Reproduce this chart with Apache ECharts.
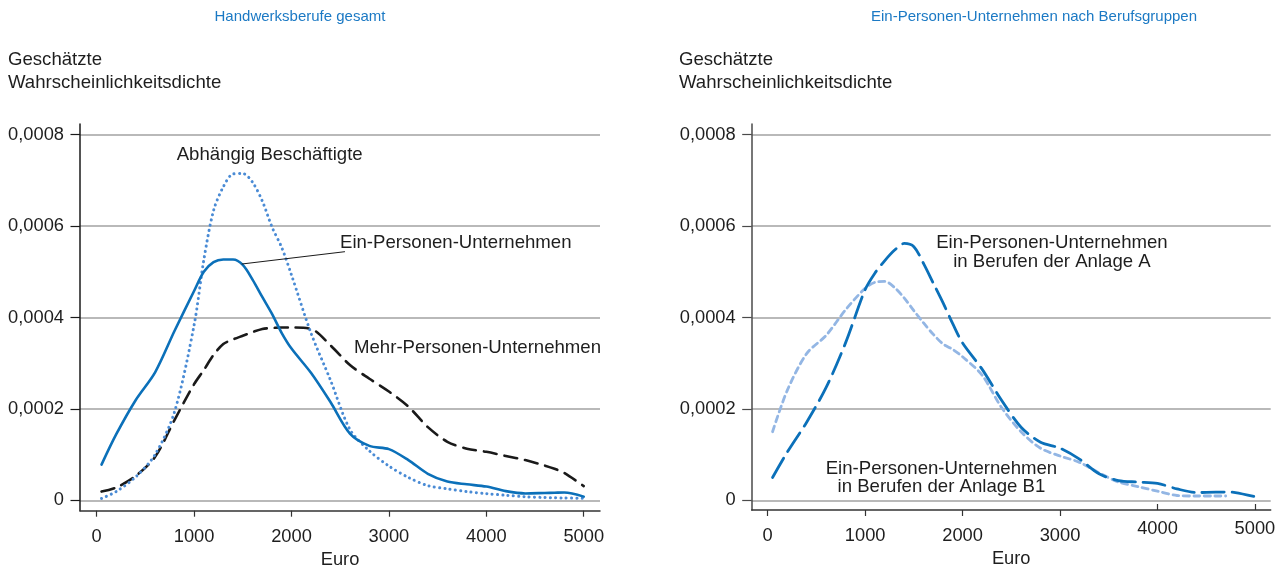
<!DOCTYPE html>
<html>
<head>
<meta charset="utf-8">
<script src="https://cdn.jsdelivr.net/npm/echarts@6/dist/echarts.min.js"></script>
<style>
  html, body { margin: 0; padding: 0; background: #ffffff; }
  #c { width: 1283px; height: 566px; }
</style>
</head>
<body>
<div id="c"></div>
<script>
// Monthly earnings in euro at which the density estimates are evaluated
const euro = [50, 200, 400, 600, 800, 1000, 1100, 1200, 1300, 1400, 1500, 1600, 1700, 1800, 1900, 2000,
  2200, 2400, 2600, 2800, 3000, 3200, 3400, 3600, 3800, 4000, 4200, 4400, 4600, 4700, 4800, 5000];

// Handwerksberufe gesamt
const einPersonen = [0.000078, 0.000144, 0.000219, 0.00028, 0.000371, 0.000458, 0.0005, 0.000521, 0.000527, 0.000527,
  0.000515, 0.000483, 0.000445, 0.000408, 0.000366, 0.000332, 0.000279, 0.000215, 0.000146, 0.000119, 0.000112,
  0.000088, 0.000058, 0.000041, 0.000035, 0.00003, 0.00002, 0.000015, 0.000016, 0.0000165, 0.000017, 0.000008];
const abhaengig = [0.000004, 0.000019, 0.000051, 0.0001, 0.000194, 0.000383, 0.000526, 0.000634, 0.000686, 0.000714,
  0.000715, 0.000696, 0.000655, 0.000598, 0.000553, 0.000493, 0.000366, 0.000263, 0.000155, 0.000108, 0.000075,
  0.00005, 0.000032, 0.000025, 0.000019, 0.0000145, 0.000011, 0.0000077, 0.000006, 0.0000055, 0.000005, 0.0000044];
const mehrPersonen = [0.000019, 0.000028, 0.000053, 0.000095, 0.000176, 0.000254, 0.000285, 0.000318, 0.000342, 0.000352,
  0.00036, 0.000368, 0.000375, 0.000377, 0.000378, 0.000378, 0.000375, 0.000339, 0.000296, 0.000266, 0.000238,
  0.000205, 0.00016, 0.000128, 0.000113, 0.000106, 0.000097, 0.000088, 0.000076, 0.000069, 0.00006, 0.000031];

// Ein-Personen-Unternehmen nach Berufsgruppen
const anlageA = [0.00005, 0.000105, 0.000171, 0.000247, 0.000345, 0.000461, 0.000497, 0.000524, 0.000547, 0.000562,
  0.000555, 0.000518, 0.000475, 0.000432, 0.000386, 0.000344, 0.000287, 0.000219, 0.00016, 0.000127, 0.000114,
  0.00009, 0.000058, 0.000043, 0.00004, 0.000037, 0.000025, 0.000017, 0.0000178, 0.000018, 0.000017, 0.000008];
const anlageB1 = [0.00015, 0.00024, 0.000321, 0.000361, 0.000417, 0.000464, 0.000477, 0.000479, 0.000466, 0.000443,
  0.000415, 0.000388, 0.000363, 0.000342, 0.00033, 0.000314, 0.000274, 0.000203, 0.00015, 0.000114, 0.000097,
  0.000083, 0.00006, 0.00004, 0.00003, 0.00002, 0.0000105, 0.0000094, 0.0000094, 0.0000094, null, null];

// Axis ticks
const yTicks = [0, 0.0002, 0.0004, 0.0006, 0.0008];
const yTickLabels = ['0', '0,0002', '0,0004', '0,0006', '0,0008'];
const xTicks = [0, 1000, 2000, 3000, 4000, 5000];

const FONT = '"Liberation Sans", Arial, Helvetica, sans-serif';
const TEXT = '#1e1e1e';
const BLUE = '#0b70b9';
const BLUE_DOT = '#4a8bd5';
const BLUE_LIGHT = '#93b6e4';
const FS = 18.6;   // annotations and captions
const FS_TICK = 18.3;

const pairs = ys => euro.map((e, i) => [e, ys[i]]);
const yLabel = v => {
  const i = yTicks.findIndex(t => Math.abs(t - v) < 1e-10);
  return i >= 0 ? yTickLabels[i] : '';
};

function xAxisFor(gridIndex, min, max, ticks, opts) {
  const o = opts || {};
  return {
    type: 'value', gridIndex, min, max, position: 'bottom',
    name: o.noName ? '' : 'Euro', nameLocation: 'middle', nameGap: 37,
    nameTextStyle: { fontSize: FS_TICK, color: TEXT, fontFamily: FONT },
    axisLine: { show: !o.noLine, onZero: false, lineStyle: { color: '#333', width: 1.5 } },
    axisTick: { show: true, inside: !!o.inside, customValues: ticks, length: 6, lineStyle: { color: '#333', width: 1.2 } },
    axisLabel: { customValues: ticks, margin: o.margin || 17, fontSize: FS_TICK, color: TEXT, fontFamily: FONT,
      formatter: v => String(v) },
    splitLine: { show: false }
  };
}

function yAxisFor(gridIndex, min, max, lineColor) {
  return {
    type: 'value', gridIndex, min, max,
    axisLine: { show: true, onZero: false, lineStyle: { color: lineColor, width: 1.5 } },
    axisTick: { show: true, customValues: yTicks, length: 9.5, lineStyle: { color: lineColor, width: 1.2 } },
    axisLabel: { customValues: yTicks, margin: 16, fontSize: FS_TICK, color: TEXT, fontFamily: FONT, formatter: yLabel },
    splitLine: { show: true, lineStyle: { color: '#a2a2a2', width: 1.5 } }
  };
}

const lineSeries = (name, xi, yi, ys, color, width, type) => ({
  name, type: 'line', xAxisIndex: xi, yAxisIndex: yi, data: pairs(ys),
  smooth: 0.3, showSymbol: false, symbol: 'none', connectNulls: false,
  lineStyle: { color, width, type, cap: 'round', join: 'round' }, z: 3
});

const chart = echarts.init(document.getElementById('c'), null, { renderer: 'canvas' });

chart.setOption({
  animation: false,
  backgroundColor: '#ffffff',
  grid: [
    { left: 80, top: 124, width: 520, height: 386.7, outerBoundsMode: 'none', containLabel: false },
    { left: 751.7, top: 124, width: 519, height: 386, outerBoundsMode: 'none', containLabel: false }
  ],
  xAxis: [
    xAxisFor(0, -171, 5167, xTicks),
    xAxisFor(1, -164, 5162, xTicks.slice(0, 4)),
    xAxisFor(1, -164, 5162, xTicks.slice(4), { noName: true, noLine: true, inside: true, margin: 9.5 })
  ],
  yAxis: [
    yAxisFor(0, -0.0000228, 0.0008234, '#1a1a1a'),
    yAxisFor(1, -0.0000212, 0.0008234, '#4a4a4a')
  ],
  series: [
    lineSeries('Mehr-Personen-Unternehmen', 0, 0, mehrPersonen, '#1a1a1a', 2.6, [13, 8]),
    lineSeries('Abhängig Beschäftigte', 0, 0, abhaengig, BLUE_DOT, 3, [0.1, 5.2]),
    lineSeries('Ein-Personen-Unternehmen', 0, 0, einPersonen, BLUE, 2.6, 'solid'),
    lineSeries('Anlage B1', 1, 1, anlageB1, BLUE_LIGHT, 2.8, [6, 4.5]),
    lineSeries('Anlage A', 1, 1, anlageA, BLUE, 2.8, [22, 8])
  ]
});

// Titles, axis captions and curve annotations
const at = (gridIndex, e, d) => chart.convertToPixel({ gridIndex }, [e, d]);
const txt = (p, text, align, color, size) => ({
  type: 'text', x: p[0], y: p[1], z: 10,
  style: { text, fill: color || TEXT, font: (size || FS) + 'px ' + FONT, textAlign: align || 'left',
    textVerticalAlign: 'middle', lineHeight: 18.5 }
});

const lead0 = at(0, 1489, 0.000517);
const lead1 = at(0, 2549, 0.000544);

chart.setOption({
  graphic: [
    txt([300, 17], 'Handwerksberufe gesamt', 'center', '#1b79c4', 15),
    txt([1034, 17], 'Ein-Personen-Unternehmen nach Berufsgruppen', 'center', '#1b79c4', 15),
    txt([8, 60], 'Geschätzte'),
    txt([8, 83], 'Wahrscheinlichkeitsdichte'),
    txt([679, 60], 'Geschätzte'),
    txt([679, 83], 'Wahrscheinlichkeitsdichte'),
    txt(at(0, 821, 0.000755), 'Abhängig Beschäftigte'),
    txt(at(0, 2498, 0.000564), 'Ein-Personen-Unternehmen'),
    txt(at(0, 2642, 0.000333), 'Mehr-Personen-Unternehmen'),
    txt(at(1, 2917, 0.000542), 'Ein-Personen-Unternehmen\nin Berufen der Anlage A', 'center'),
    txt(at(1, 1783, 0.0000488), 'Ein-Personen-Unternehmen\nin Berufen der Anlage B1', 'center'),
    { type: 'line', z: 10, shape: { x1: lead0[0], y1: lead0[1], x2: lead1[0], y2: lead1[1] },
      style: { stroke: '#1a1a1a', lineWidth: 1 } }
  ]
});
</script>
</body>
</html>
